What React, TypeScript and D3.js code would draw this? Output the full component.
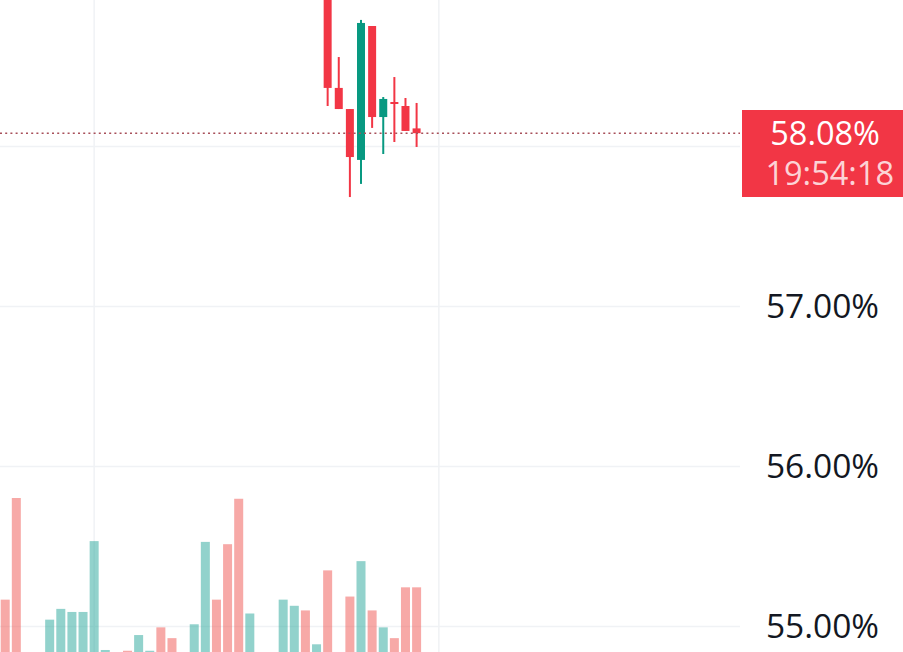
import React from "react";
import * as d3 from "d3";

// volume per bar (index 0..37), 0 = no bar
const volumes = [34, 100, 0, 0, 21, 28, 26, 26, 72, 1.3, 0, 0.8, 11, 0.8, 16, 9, 0, 18, 71.5, 34, 70, 99.5, 25, 0, 0, 34, 30, 27, 5, 53, 0, 36, 59, 27, 16, 9, 42, 42];
// volume direction: u = up (teal), d = down (pink)
const volDir = ["d", "d", "d", "d", "u", "u", "u", "u", "u", "u", "u", "d", "u", "u", "d", "d", "u", "u", "u", "d", "d", "d", "u", "u", "u", "u", "u", "d", "u", "d", "d", "d", "u", "d", "u", "d", "d", "d"];

// visible candles (index 29..37)
const candleIndex = [29, 30, 31, 32, 33, 34, 35, 36, 37];
const opens = [59.05, 58.363, 58.231, 57.913, 58.75, 58.181, 58.275, 58.25, 58.11];
const highs = [59.1, 58.556, 58.231, 58.788, 58.75, 58.306, 58.431, 58.30, 58.269];
const lows = [58.25, 58.231, 57.681, 57.763, 58.113, 57.95, 58.025, 58.094, 57.994];
const closes = [58.363, 58.231, 57.931, 58.769, 58.181, 58.294, 58.263, 58.094, 58.08];

const priceTicks = [58, 57, 56, 55];
const timeGridIdx = [8, 39];
const lastPrice = 58.08;
const lastLabel = "58.08%";
const countdown = "19:54:18";

const W = 903;
const H = 652;
const paneRight = 740;

const UP = "#089981";
const DOWN = "#F23645";
const VOL_UP = "rgba(38,166,154,0.5)";
const VOL_DOWN = "rgba(239,83,80,0.5)";
const GRID = "#F0F2F5";

export default function App() {
  const x = d3.scaleLinear().domain([0, 37]).range([5.2, 416.6]);
  const y = d3.scaleLinear().domain([58, 57]).range([146, 306]);
  const yVol = d3.scaleLinear().domain([0, 100]).range([652, 498]);
  const fmt = (v: number) => d3.format(".2f")(v) + "%";
  const font = "'Open Sans', sans-serif";

  return (
    <svg width={W} height={H} style={{ position: "absolute", left: 0, top: 0, background: "#fff" }}>
      <rect x={0} y={0} width={W} height={H} fill="#fff" />
      {/* grid */}
      {priceTicks.map((t) => (
        <line key={"h" + t} x1={0} x2={paneRight} y1={Math.round(y(t)) + 0.5} y2={Math.round(y(t)) + 0.5} stroke={GRID} strokeWidth={1.5} />
      ))}
      {timeGridIdx.map((i) => (
        <line key={"v" + i} x1={x(i)} x2={x(i)} y1={0} y2={H} stroke={GRID} strokeWidth={1.5} />
      ))}
      {/* volume */}
      {volumes.map((v, i) =>
        v > 0 ? (
          <rect key={"vol" + i} x={x(i) - 4.5} width={9} y={yVol(v)} height={yVol(0) - yVol(v)} fill={volDir[i] === "u" ? VOL_UP : VOL_DOWN} />
        ) : null
      )}
      {/* candles */}
      <g>
        {candleIndex.map((ci, k) => {
          const o = opens[k], c = closes[k], hi = highs[k], lo = lows[k];
          const col = c >= o ? UP : DOWN;
          const top = y(Math.max(o, c));
          const bot = y(Math.min(o, c));
          return (
            <g key={"c" + ci}>
              <line x1={x(ci)} x2={x(ci)} y1={y(hi)} y2={y(lo)} stroke={col} strokeWidth={2} />
              <rect x={x(ci) - 4} width={8} y={top} height={Math.max(2, bot - top)} fill={col} />
            </g>
          );
        })}
      </g>
      {/* last price dotted line */}
      <line x1={0} x2={paneRight} y1={y(lastPrice)} y2={y(lastPrice)} stroke="#A8505A" strokeWidth={1.6} strokeDasharray="2 3.2" />
      {/* axis labels */}
      {priceTicks
        .filter((t) => t !== 58)
        .map((t) => (
          <text key={"l" + t} x={879} y={y(t)} dy="0.36em" textAnchor="end" fontFamily={font} fontSize={33.5} fill="#131722">
            {fmt(t)}
          </text>
        ))}
      {/* last price label */}
      <rect x={742} y={110} width={W - 742} height={87} fill={DOWN} />
      <text x={880} y={133} dy="0.36em" textAnchor="end" fontFamily={font} fontSize={32.5} fill="#fff">
        {lastLabel}
      </text>
      <text x={894} y={173} dy="0.36em" textAnchor="end" fontFamily={font} fontSize={32.5} fill="rgba(255,255,255,0.8)">
        {countdown}
      </text>
    </svg>
  );
}
